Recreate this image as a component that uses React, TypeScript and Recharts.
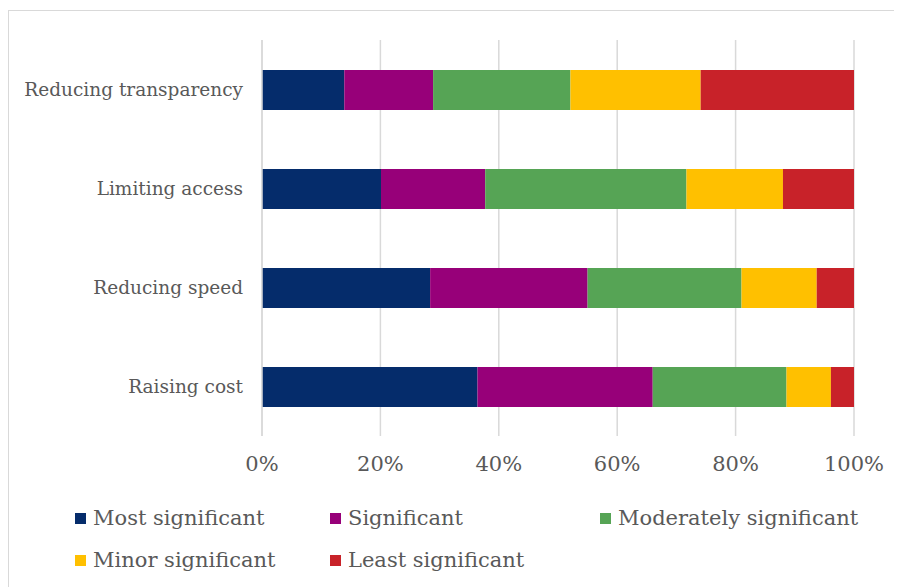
import { BarChart, Bar, XAxis, YAxis, CartesianGrid, Legend } from "recharts";

const categories = ["Reducing transparency", "Limiting access", "Reducing speed", "Raising cost"];
const mostSignificant = [13.9, 20.1, 28.4, 36.4];
const significant = [15.0, 17.6, 26.6, 29.6];
const moderatelySignificant = [23.2, 34.0, 26.0, 22.6];
const minorSignificant = [22.0, 16.3, 12.7, 7.5];
const leastSignificant = [25.9, 12.0, 6.3, 3.9];
const xTicks = [0, 20, 40, 60, 80, 100];

const seriesList = [
  { key: "most", name: "Most significant", color: "#052C6B", values: mostSignificant },
  { key: "sig", name: "Significant", color: "#970079", values: significant },
  { key: "mod", name: "Moderately significant", color: "#56A455", values: moderatelySignificant },
  { key: "minor", name: "Minor significant", color: "#FFC000", values: minorSignificant },
  { key: "least", name: "Least significant", color: "#C82229", values: leastSignificant },
];

const data = categories.map((name, i) => {
  const row: Record<string, string | number> = { name };
  seriesList.forEach((s) => {
    row[s.key] = s.values[i];
  });
  return row;
});

const FONT = "DejaVu Serif";
const TEXT = "#595959";
const GRID = "#d9d9d9";

// two-row legend laid out like the original (3 columns)
function ChartLegend() {
  const cols = [66, 321, 591];
  return (
    <div style={{ position: "relative", height: 91, width: 893, fontFamily: FONT, color: TEXT }}>
      {seriesList.map((s, i) => (
        <div
          key={s.key}
          style={{
            position: "absolute",
            left: cols[i % 3],
            top: i < 3 ? 10 : 52,
            display: "flex",
            alignItems: "center",
            fontSize: 21,
            whiteSpace: "nowrap",
          }}
        >
          <span style={{ width: 11, height: 11, background: s.color, display: "inline-block", marginRight: 7 }} />
          {s.name}
        </div>
      ))}
    </div>
  );
}

export default function App() {
  return (
    <div style={{ width: 893, height: 576, border: `1px solid ${GRID}`, marginTop: 2, background: "#fff", fontFamily: FONT }}>
      <BarChart
        width={893}
        height={576}
        data={data}
        layout="vertical"
        barSize={40}
        margin={{ top: 29, right: 48, bottom: 0, left: 0 }}
      >
        <CartesianGrid horizontal={false} stroke={GRID} strokeWidth={1.5} />
        <XAxis
          type="number"
          domain={[0, 100]}
          ticks={xTicks}
          tickFormatter={(v) => `${v}%`}
          axisLine={false}
          tickLine={false}
          tickMargin={14}
          height={60}
          tick={{ fill: TEXT, fontSize: 21, fontFamily: FONT }}
        />
        <YAxis
          type="category"
          dataKey="name"
          width={253}
          axisLine={{ stroke: GRID, strokeWidth: 1.5 }}
          tickLine={false}
          tickMargin={13}
          tick={{ fill: TEXT, fontSize: 18.5, fontFamily: FONT }}
        />
        <Legend verticalAlign="bottom" content={() => <ChartLegend />} />
        {seriesList.map((s) => (
          <Bar key={s.key} dataKey={s.key} name={s.name} stackId="a" fill={s.color} isAnimationActive={false} />
        ))}
      </BarChart>
    </div>
  );
}
